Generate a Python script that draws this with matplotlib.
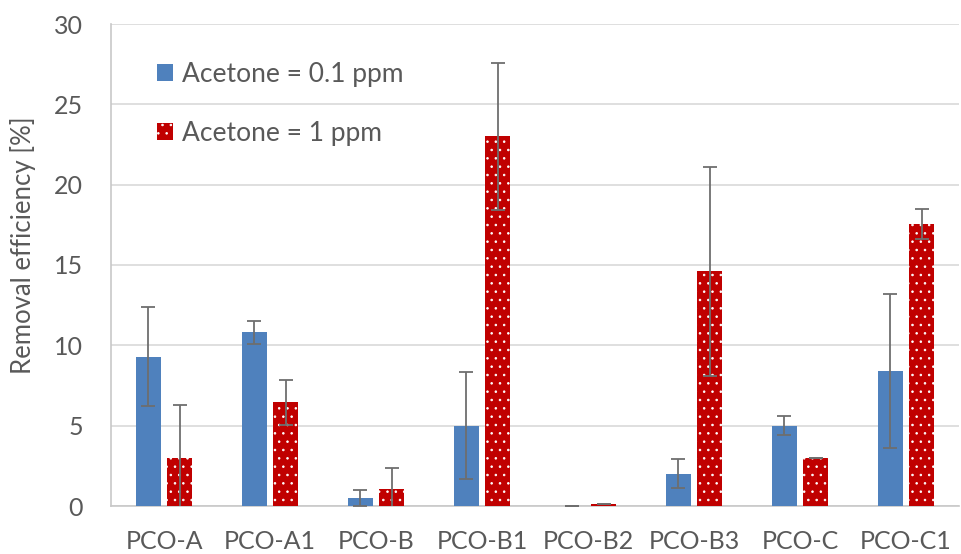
import numpy as np
import matplotlib.pyplot as plt

# categories and values
samples = ["PCO-A", "PCO-A1", "PCO-B", "PCO-B1", "PCO-B2", "PCO-B3", "PCO-C", "PCO-C1"]
eff_01 = [9.3, 10.8, 0.5, 5.0, 0.0, 2.0, 5.0, 8.4]      # acetone 0.1 ppm
err_01 = [3.1, 0.7, 0.5, 3.35, 0.0, 0.9, 0.6, 4.8]
eff_1 = [3.0, 6.45, 1.05, 23.0, 0.1, 14.6, 3.0, 17.55]  # acetone 1 ppm
err_1 = [3.3, 1.4, 1.3, 4.6, 0.0, 6.5, 0.0, 0.95]

plt.rcParams["font.family"] = ["Lato", "DejaVu Sans"]
plt.rcParams["hatch.color"] = "white"
plt.rcParams["hatch.linewidth"] = 0.6

fig = plt.figure(figsize=(9.61, 5.54), dpi=100)
ax = fig.add_axes([111/961, 1-506/554, (959-111)/961, (506-24)/554])

x = np.arange(len(samples))
w = 0.235
off = 0.147
ebar = dict(ecolor="#6E6E6E", elinewidth=1.3, capsize=5, capthick=1.3)

ax.bar(x-off, eff_01, w, color="#4F81BD", yerr=err_01, error_kw=ebar,
       label="Acetone = 0.1 ppm", zorder=3)
ax.bar(x+off, eff_1, w, color="#C00000", hatch="..", linewidth=0, yerr=err_1,
       error_kw=ebar, label="Acetone = 1 ppm", zorder=3)

ax.set_xlim(-0.5, len(samples)-0.5)
ax.set_ylim(0, 30)
ax.set_yticks(range(0, 31, 5))
ax.set_xticks(x, samples)
ax.yaxis.grid(True, color="#D9D9D9", linewidth=1.2, zorder=0)
ax.set_axisbelow(True)
for s in ["top", "right"]:
    ax.spines[s].set_visible(False)
for s in ["bottom", "left"]:
    ax.spines[s].set_color("#C8C8C8")
    ax.spines[s].set_linewidth(1.2)
ax.tick_params(length=0, labelsize=18, colors="#595959")
ax.tick_params(axis="y", pad=20)
ax.tick_params(axis="x", pad=17)
fig.text(23/961, 1-245/554, "Removal efficiency [%]", rotation=90,
         ha="center", va="center", fontsize=18.5, color="#595959")

ax.legend(loc="upper left", bbox_to_anchor=(0.054, 0.922), frameon=False,
          fontsize=19, labelspacing=1.3, handlelength=0.6, handleheight=0.6,
          handletextpad=0.35, borderpad=0, borderaxespad=0, labelcolor="#595959")

fig.savefig("out.png", dpi=100)
